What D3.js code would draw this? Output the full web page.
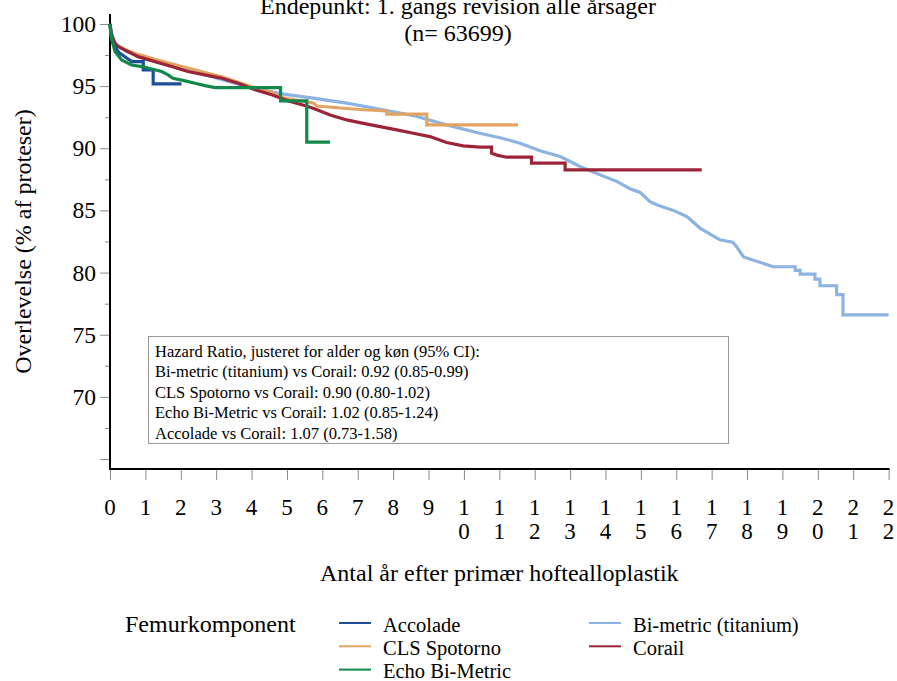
<!DOCTYPE html>
<html>
<head>
<meta charset="utf-8">
<script src="https://cdn.jsdelivr.net/npm/d3@7"></script>
<style>
  html, body { margin: 0; padding: 0; background: #fff; }
  svg { display: block; }
</style>
</head>
<body>
<svg id="chart" width="897" height="681"></svg>
<script>
// Kaplan-Meier survival per femoral stem (time in years, survival in %)
const seriesNames = ["Accolade", "CLS Spotorno", "Echo Bi-Metric", "Bi-metric (titanium)", "Corail"];
const seriesColors = ["#1f4e9c", "#e3a463", "#12894a", "#8db3e2", "#9c2438"];

const accoladeTime = [0, 0.03, 0.1, 0.25, 0.45, 0.62, 0.94, 0.94, 1.22, 1.22, 2.02];
const accoladeSurv = [100, 99.2, 98.3, 97.7, 97.3, 96.97, 96.97, 96.3, 96.3, 95.18, 95.18];

const clsTime = [0, 0.03, 0.08, 0.14, 0.42, 0.79, 1.27, 1.74, 2.2, 2.68, 3.16, 3.62, 4.1, 4.57, 4.8, 5.74, 5.85, 6.69, 7.16, 7.82, 7.82, 8.95, 8.95, 11.53];
const clsSurv = [100, 99.3, 98.8, 98.4, 97.95, 97.55, 97.15, 96.8, 96.45, 96.1, 95.75, 95.3, 94.85, 94.5, 94.1, 93.65, 93.4, 93.2, 93.1, 93.0, 92.74, 92.74, 91.88, 91.88];

const echoTime = [0, 0.03, 0.14, 0.33, 0.61, 0.9, 1.18, 1.46, 1.64, 1.78, 2.12, 2.4, 2.68, 2.97, 4.82, 4.82, 5.56, 5.56, 6.22];
const echoSurv = [100, 99.0, 97.78, 97.1, 96.7, 96.57, 96.38, 96.17, 95.9, 95.63, 95.42, 95.23, 95.04, 94.88, 94.88, 93.81, 93.81, 90.5, 90.5];

const bimetricTime = [0, 0.03, 0.08, 0.2, 0.5, 1.0, 1.5, 2.0, 2.5, 3.0, 3.5, 4.0, 4.8, 5.74, 6.69, 7.63, 8.57, 9.51, 10.45, 11.02, 11.59, 12.15, 12.72, 13.28, 13.85, 14.32, 14.69, 14.98, 15.26, 15.45, 15.73, 15.92, 16.3, 16.67, 17.23, 17.6, 17.7, 17.9, 18.74, 19.36, 19.36, 19.5, 19.5, 19.92, 19.92, 20.06, 20.06, 20.53, 20.53, 20.71, 20.71, 22.0];
const bimetricSurv = [100, 99.2, 98.7, 98.25, 97.75, 97.25, 96.85, 96.45, 96.05, 95.65, 95.25, 94.9, 94.4, 94.03, 93.63, 93.14, 92.63, 91.88, 91.21, 90.85, 90.41, 89.8, 89.34, 88.53, 87.86, 87.33, 86.75, 86.45, 85.7, 85.45, 85.18, 85.0, 84.5, 83.58, 82.64, 82.45, 82.1, 81.26, 80.47, 80.47, 80.17, 80.17, 79.88, 79.88, 79.48, 79.48, 78.94, 78.94, 78.22, 78.22, 76.6, 76.6];

const corailTime = [0, 0.04, 0.14, 0.23, 0.79, 1.27, 1.74, 2.2, 2.68, 3.16, 3.62, 4.1, 4.57, 5.04, 5.5, 5.74, 6.22, 6.69, 7.16, 7.63, 8.1, 8.57, 9.04, 9.51, 9.98, 10.45, 10.78, 10.78, 10.93, 11.2, 11.91, 11.91, 12.86, 12.86, 16.72];
const corailSurv = [100, 99.2, 98.45, 98.18, 97.37, 96.97, 96.57, 96.17, 95.9, 95.63, 95.23, 94.7, 94.3, 93.8, 93.44, 93.22, 92.68, 92.28, 92.0, 91.74, 91.48, 91.21, 90.94, 90.46, 90.19, 90.09, 90.09, 89.6, 89.45, 89.28, 89.28, 88.8, 88.8, 88.26, 88.26];

const yMajorTicks = [65, 70, 75, 80, 85, 90, 95, 100];
const yLabelTicks = [70, 75, 80, 85, 90, 95, 100];
const yMinorTicks = [67.5, 72.5, 77.5, 82.5, 87.5, 92.5, 97.5];
const xTicks = d3.range(0, 23);

const hazardLines = [
  "Hazard Ratio, justeret for alder og køn (95% CI):",
  "Bi-metric (titanium) vs Corail: 0.92 (0.85-0.99)",
  "CLS Spotorno vs Corail: 0.90 (0.80-1.02)",
  "Echo Bi-Metric vs Corail: 1.02 (0.85-1.24)",
  "Accolade vs Corail: 1.07 (0.73-1.58)"
];

const titleLines = ["Endepunkt: 1. gangs revision alle årsager", "(n= 63699)"];
const xTitle = "Antal år efter primær hoftealloplastik";
const yTitle = "Overlevelse (% af proteser)";
const legendTitle = "Femurkomponent";

const serif = "'Liberation Serif', 'Times New Roman', serif";

const zip = (t, s) => t.map((d, i) => ({ t: d, s: s[i] }));
const series = [
  { name: "Bi-metric (titanium)", data: zip(bimetricTime, bimetricSurv) },
  { name: "CLS Spotorno", data: zip(clsTime, clsSurv) },
  { name: "Corail", data: zip(corailTime, corailSurv) },
  { name: "Accolade", data: zip(accoladeTime, accoladeSurv) },
  { name: "Echo Bi-Metric", data: zip(echoTime, echoSurv) }
];

const color = d3.scaleOrdinal().domain(seriesNames).range(seriesColors);

const svg = d3.select("#chart");
const plotLeft = 110, plotRight = 888.6, plotTop = 14, plotBottom = 469;

const x = d3.scaleLinear().domain([0, 22]).range([plotLeft, plotRight]);
const y = d3.scaleLinear().domain([64.2, 100.8]).range([plotBottom, plotTop]);

// Titles
svg.append("g").selectAll("text").data(titleLines).join("text")
  .attr("x", 458).attr("y", (d, i) => 14 + i * 27)
  .attr("text-anchor", "middle").attr("font-size", 24).attr("fill", "#000")
  .text(d => d);

// Y axis: minor ticks, major ticks, labels
const yMinor = svg.append("g").attr("transform", `translate(${plotLeft},0)`)
  .call(d3.axisLeft(y).tickValues(yMinorTicks).tickSize(5).tickSizeOuter(0).tickFormat(""));
yMinor.select(".domain").remove();
const yMajor = svg.append("g").attr("transform", `translate(${plotLeft},0)`)
  .call(d3.axisLeft(y).tickValues(yMajorTicks).tickSize(10).tickSizeOuter(0).tickPadding(4)
    .tickFormat(d => yLabelTicks.includes(d) ? d : ""));
yMajor.select(".domain").remove();
svg.selectAll(".tick line").attr("stroke", "#8a8a8a").attr("stroke-width", 1);
yMajor.selectAll(".tick text").attr("font-size", 23.5).attr("fill", "#000");

// X axis ticks
const xAxis = svg.append("g").attr("transform", `translate(0,${plotBottom})`)
  .call(d3.axisBottom(x).tickValues(xTicks).tickSize(11).tickSizeOuter(0).tickFormat(""));
xAxis.select(".domain").remove();
xAxis.selectAll(".tick line").attr("stroke", "#8a8a8a").attr("stroke-width", 1);

// X tick labels, digits stacked vertically
const xl = svg.append("g").selectAll("text").data(xTicks).join("text")
  .attr("text-anchor", "middle").attr("font-size", 23).attr("fill", "#000");
xl.each(function (d) {
  const digits = String(d).split("");
  d3.select(this).selectAll("tspan").data(digits).join("tspan")
    .attr("x", x(d)).attr("y", (c, i) => 515 + i * 23.5).text(c => c);
});

// Axis lines
svg.append("line").attr("x1", plotLeft).attr("x2", plotLeft).attr("y1", plotTop).attr("y2", plotBottom + 1)
  .attr("stroke", "#000").attr("stroke-width", 2);
svg.append("line").attr("x1", plotLeft - 1).attr("x2", plotRight + 1).attr("y1", plotBottom).attr("y2", plotBottom)
  .attr("stroke", "#000").attr("stroke-width", 2);

// Axis titles
svg.append("text").attr("x", (plotLeft + plotRight) / 2).attr("y", 581)
  .attr("text-anchor", "middle").attr("font-size", 24).text(xTitle);
svg.append("text").attr("transform", `translate(31,${(plotTop + plotBottom) / 2}) rotate(-90)`)
  .attr("text-anchor", "middle").attr("font-size", 24).text(yTitle);

// Survival curves
const line = d3.line().x(d => x(d.t)).y(d => y(d.s)).curve(d3.curveLinear);
svg.append("g").selectAll("path").data(series).join("path")
  .attr("d", d => line(d.data))
  .attr("fill", "none")
  .attr("stroke", d => color(d.name))
  .attr("stroke-width", 3.2)
  .attr("stroke-linejoin", "miter");

// Hazard ratio box
const box = svg.append("g");
box.append("rect").attr("x", 148.5).attr("y", 336.5).attr("width", 580).attr("height", 107)
  .attr("fill", "#fff").attr("stroke", "#9a9a9a").attr("stroke-width", 1);
box.selectAll("text").data(hazardLines).join("text")
  .attr("x", 155).attr("y", (d, i) => 357 + i * 20.4)
  .attr("font-size", 16.5).attr("fill", "#000").text(d => d);

// Legend
svg.append("text").attr("x", 125).attr("y", 632).attr("font-size", 24).text(legendTitle);
const legendItems = [
  { name: "Accolade", col: 0, row: 0 },
  { name: "CLS Spotorno", col: 0, row: 1 },
  { name: "Echo Bi-Metric", col: 0, row: 2 },
  { name: "Bi-metric (titanium)", col: 1, row: 0 },
  { name: "Corail", col: 1, row: 1 }
];
const lg = svg.append("g").selectAll("g").data(legendItems).join("g")
  .attr("transform", d => `translate(${339 + d.col * 250},${623 + d.row * 23.3})`);
lg.append("line").attr("x1", 0).attr("x2", 32).attr("y1", 0).attr("y2", 0)
  .attr("stroke", d => color(d.name)).attr("stroke-width", 2);
lg.append("text").attr("x", 44).attr("y", 8.5).attr("font-size", 20.5).text(d => d.name);

// Every label in the serif face
svg.selectAll("g").attr("font-family", serif);
svg.selectAll("text").attr("font-family", serif);
</script>
</body>
</html>
